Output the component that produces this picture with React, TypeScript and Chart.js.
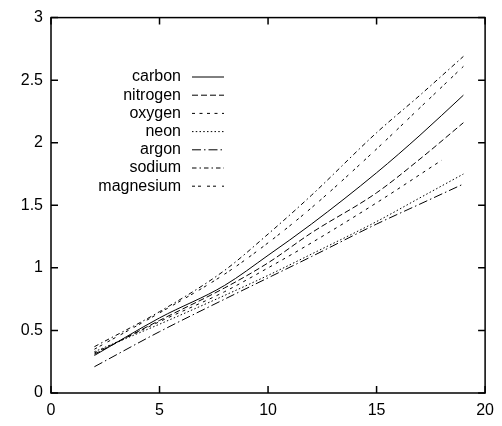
import React, { useEffect, useRef } from "react";
import { Chart, registerables } from "chart.js";

Chart.register(...registerables);

// Data
const X_FULL = [2, 5, 8, 10, 12, 15, 17, 19];
const X_OXYGEN = [2, 5, 8, 10, 12, 15, 18];

const CARBON = [0.30, 0.60, 0.86, 1.10, 1.35, 1.76, 2.06, 2.38];
const NITROGEN = [0.31, 0.58, 0.84, 1.04, 1.28, 1.60, 1.87, 2.16];
const OXYGEN = [0.32, 0.57, 0.81, 1.00, 1.20, 1.52, 1.86];
const NEON = [0.33, 0.55, 0.78, 0.94, 1.11, 1.37, 1.56, 1.75];
const ARGON = [0.21, 0.49, 0.75, 0.92, 1.09, 1.35, 1.51, 1.67];
const SODIUM = [0.37, 0.65, 0.98, 1.27, 1.58, 2.08, 2.38, 2.69];
const MAGNESIUM = [0.35, 0.64, 0.95, 1.20, 1.48, 1.95, 2.28, 2.61];

const LABELS = ["carbon", "nitrogen", "oxygen", "neon", "argon", "sodium", "magnesium"];
const X_TICKS = [0, 5, 10, 15, 20];
const Y_TICKS = [0, 0.5, 1, 1.5, 2, 2.5, 3];

const FONT = "'Liberation Sans', Arial, Helvetica, sans-serif";

const DASHES: number[][] = [
  [],
  [6, 3],
  [3, 4.5],
  [1.5, 2.25],
  [9, 3, 1.5, 3],
  [4.5, 3, 1.5, 3],
  [3, 3, 3, 6],
];

function pts(xs: number[], ys: number[]) {
  return ys.map((y, i) => ({ x: xs[i], y }));
}

const framePlugin = {
  id: "gnuplotFrame",
  afterDatasetsDraw(chart: any) {
    const { ctx, chartArea, scales } = chart;
    const { left, right, top, bottom } = chartArea;
    ctx.save();
    ctx.strokeStyle = "#000";
    ctx.lineWidth = 1.5;
    ctx.setLineDash([]);
    ctx.strokeRect(left, top, right - left, bottom - top);
    const tl = 7;
    ctx.beginPath();
    X_TICKS.forEach((v) => {
      const px = scales.x.getPixelForValue(v);
      ctx.moveTo(px, bottom);
      ctx.lineTo(px, bottom - tl);
      ctx.moveTo(px, top);
      ctx.lineTo(px, top + tl);
    });
    Y_TICKS.forEach((v) => {
      const py = scales.y.getPixelForValue(v);
      ctx.moveTo(left, py);
      ctx.lineTo(left + tl, py);
      ctx.moveTo(right, py);
      ctx.lineTo(right - tl, py);
    });
    ctx.stroke();

    // legend (text right-aligned, sample line to the right)
    ctx.font = `16px ${FONT}`;
    ctx.fillStyle = "#000";
    ctx.textAlign = "right";
    ctx.textBaseline = "middle";
    ctx.lineWidth = 1;
    chart.data.datasets.forEach((ds: any, i: number) => {
      const y = 77 + i * 18.2;
      ctx.fillText(ds.label, 181, y);
      ctx.beginPath();
      ctx.setLineDash(ds.borderDash || []);
      ctx.moveTo(192, y);
      ctx.lineTo(224, y);
      ctx.stroke();
    });
    ctx.restore();
  },
};

export default function App() {
  const ref = useRef<HTMLCanvasElement | null>(null);

  useEffect(() => {
    document.body.style.margin = "0";
    const series = [
      pts(X_FULL, CARBON),
      pts(X_FULL, NITROGEN),
      pts(X_OXYGEN, OXYGEN),
      pts(X_FULL, NEON),
      pts(X_FULL, ARGON),
      pts(X_FULL, SODIUM),
      pts(X_FULL, MAGNESIUM),
    ];
    const chart = new Chart(ref.current as HTMLCanvasElement, {
      type: "line",
      data: {
        datasets: series.map((d, i) => ({
          label: LABELS[i],
          data: d,
          borderColor: "#000",
          borderWidth: 1,
          borderDash: DASHES[i],
          pointRadius: 0,
          fill: false,
          cubicInterpolationMode: "monotone" as const,
        })),
      },
      options: {
        responsive: false,
        animation: false,
        layout: { padding: { left: 0, right: 14, top: 14, bottom: 0 } },
        plugins: { legend: { display: false }, tooltip: { enabled: false } },
        scales: {
          x: {
            type: "linear",
            min: 0,
            max: 20,
            grid: { display: false, drawTicks: false },
            border: { display: false },
            afterBuildTicks: (s: any) => {
              s.ticks = X_TICKS.map((v) => ({ value: v }));
            },
            afterFit: (s: any) => {
              s.height = 33;
            },
            ticks: {
              color: "#000",
              padding: 8,
              font: { family: FONT, size: 16 },
              maxRotation: 0,
            },
          },
          y: {
            type: "linear",
            min: 0,
            max: 3,
            grid: { display: false, drawTicks: false },
            border: { display: false },
            afterBuildTicks: (s: any) => {
              s.ticks = Y_TICKS.map((v) => ({ value: v }));
            },
            afterFit: (s: any) => {
              s.width = 51;
            },
            ticks: {
              color: "#000",
              padding: 8,
              font: { family: FONT, size: 16 },
              callback: (v: any) => String(v),
            },
          },
        },
      },
      plugins: [framePlugin],
    });
    return () => chart.destroy();
  }, []);

  return <canvas ref={ref} width={502} height={426} style={{ display: "block" }} />;
}
